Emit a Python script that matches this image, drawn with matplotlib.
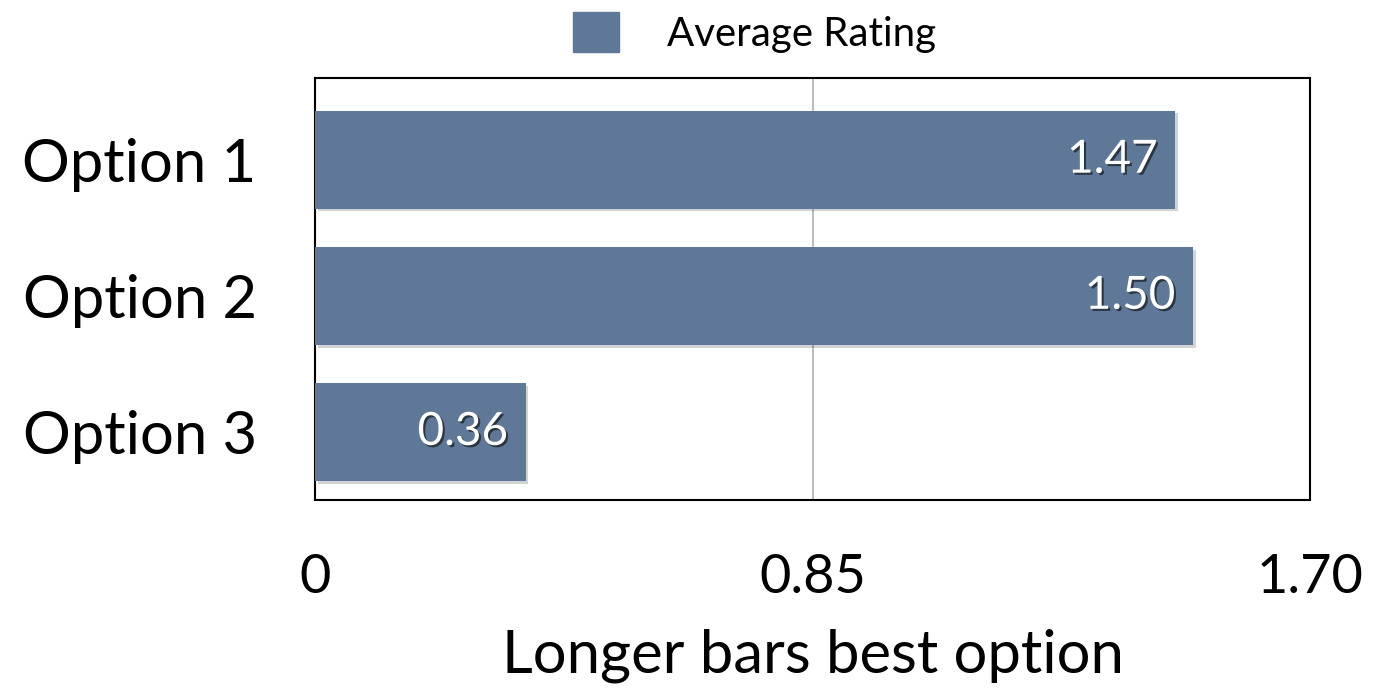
import matplotlib.pyplot as plt
import matplotlib.patheffects as pe
from matplotlib.patches import Patch

# Chart data
options = ["Option 1", "Option 2", "Option 3"]
ratings = [1.47, 1.50, 0.36]
xticks = [0, 0.85, 1.70]
xtick_labels = ["0", "0.85", "1.70"]

BAR_COLOR = "#5f7898"

plt.rcParams["font.family"] = ["Lato", "DejaVu Sans"]

fig = plt.figure(figsize=(13.92, 6.93), dpi=100)
ax = fig.add_axes([0.2263, 0.2785, 0.7148, 0.6089])

ypos = list(range(len(options)))
bars = ax.barh(ypos, ratings, height=0.72, color=BAR_COLOR, zorder=3)
for b in bars:
    b.set_path_effects([pe.SimplePatchShadow(offset=(2, -2), alpha=0.2), pe.Normal()])

# value labels inside the bar ends, white with a soft dark shadow
for y, v in zip(ypos, ratings):
    t = ax.text(v - 0.03, y, f"{v:.2f}", ha="right", va="center",
                color="white", fontsize=33, zorder=4)
    t.set_path_effects([pe.SimplePatchShadow(offset=(1.5, -1.5), shadow_rgbFace="black", alpha=0.55),
                        pe.Normal()])

ax.set_xlim(0, 1.70)
ax.set_ylim(2.5, -0.6)
ax.set_xticks(xticks)
ax.set_xticklabels(xtick_labels, fontsize=39)
ax.set_yticks(ypos)
ax.set_yticklabels(options, fontsize=43)
ax.tick_params(axis="y", length=0, pad=42)
ax.tick_params(axis="x", length=0, pad=38)
ax.xaxis.grid(True, color="#b0b0b0", linewidth=1.2, zorder=0)
for s in ax.spines.values():
    s.set_linewidth(1.5)
    s.set_color("black")

ax.set_xlabel("Longer bars best option", fontsize=43, labelpad=19)

fig.legend(handles=[Patch(color=BAR_COLOR, label="Average Rating")],
           loc="upper center", bbox_to_anchor=(0.542, 1.035), frameon=False,
           fontsize=29, handlelength=1.15, handleheight=1.15, handletextpad=1.2)

fig.savefig("out.png", dpi=100)
